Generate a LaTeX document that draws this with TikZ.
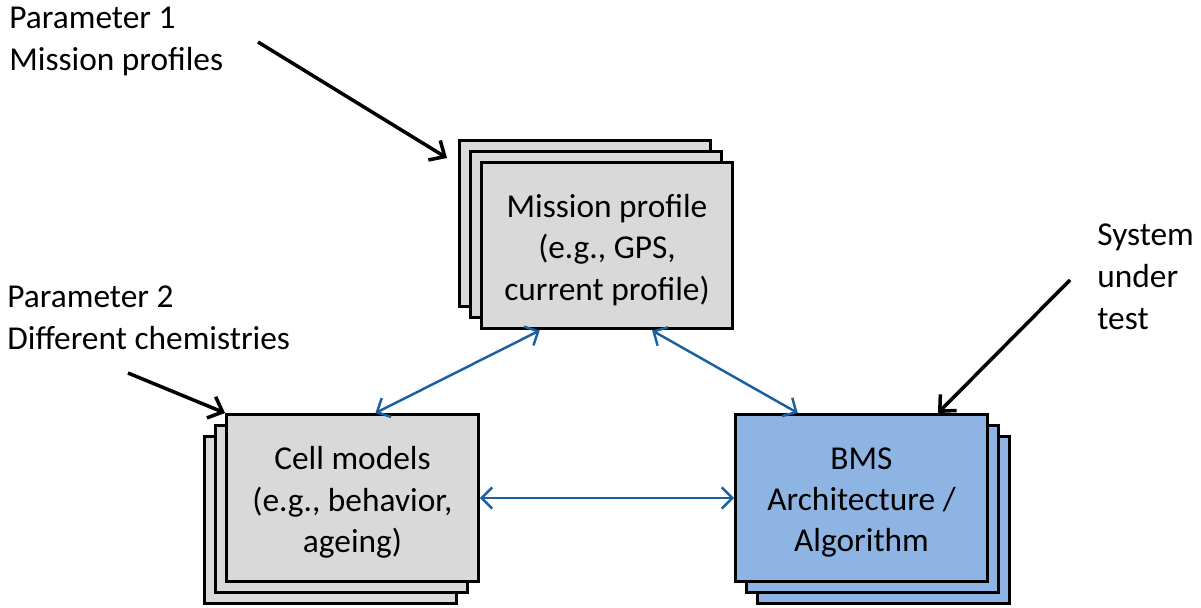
\documentclass[tikz,border=0pt]{standalone}
\usepackage{fontspec}
\setmainfont{Carlito}
\usetikzlibrary{arrows.meta,calc}

\definecolor{boxgray}{RGB}{217,217,217}
\definecolor{boxblue}{RGB}{142,180,227}
\definecolor{linkblue}{RGB}{26,95,160}

\tikzset{
  card/.style={draw=black, line width=1.7pt, minimum width=5.04cm, minimum height=3.34cm},
  cardtext/.style={align=center, font=\fontsize{19pt}{23.6pt}\selectfont, yshift=-0.09cm},
  link/.style={draw=linkblue, line width=1.4pt, {Straight Barb[length=6pt,width=12pt]}-{Straight Barb[length=6pt,width=12pt]}},
  pointer/.style={draw=black, line width=2pt, -{Straight Barb[length=7pt,width=13pt]}},
  note/.style={anchor=west, align=left, inner sep=0pt, font=\fontsize{19pt}{23.9pt}\selectfont}
}

\begin{document}
\begin{tikzpicture}[x=0.02cm, y=-0.02cm]

  \useasboundingbox (0,0) rectangle (1201,608);

  % stack behind mission profile
  \node[card, fill=boxgray] (misback) at (585,223.5) {};
  \node[card, fill=boxgray] (mismid) at (596,234.5) {};
  \node[card, fill=boxgray] (mis) at (607,245.5) {};
  \node[cardtext] (mistext) at (mis) {Mission profile\\(e.g., GPS,\\current profile)};

  % stack behind cell models
  \node[card, fill=boxgray] (cellback) at (330.5,520) {};
  \node[card, fill=boxgray] (cellmid) at (341.5,509) {};
  \node[card, fill=boxgray] (cell) at (352.5,498) {};
  \node[cardtext] (celltext) at (cell) {Cell models\\(e.g., behavior,\\ageing)};

  % stack behind BMS
  \node[card, fill=boxblue] (bmsback) at (883.5,520) {};
  \node[card, fill=boxblue] (bmsmid) at (872.5,509) {};
  \node[card, fill=boxblue] (bms) at (861.5,498) {};
  \node[cardtext] (bmstext) at (bms) {BMS\\Architecture /\\Algorithm};

  % labels
  \node[note] (par1) at (9,41) {Parameter 1\\Mission profiles};
  \node[note] (par2) at (7,318) {Parameter 2\\Different chemistries};
  \node[note] (sut) at (1097,277) {System\\under\\test};

  \coordinate (p1from) at (258,42);
  \coordinate (p1to) at (447,158);
  \coordinate (p2from) at (128,373);
  \coordinate (sutfrom) at (1070,280);

  \draw[pointer] (p1from) -- (p1to);
  \draw[pointer] (p2from) -- (cell.north west);
  \draw[pointer] (sutfrom) -- ($(bms.north west)!0.8!(bms.north east)$);

  % links between the three blocks
  \draw[link] ($(mis.south west)!0.236!(mis.south east)$) -- ($(cell.north west)!0.59!(cell.north east)$);
  \draw[link] ($(mis.south west)!0.677!(mis.south east)$) -- ($(bms.north west)!0.25!(bms.north east)$);
  \draw[link] (cell.east) -- (bms.west);

\end{tikzpicture}
\end{document}
